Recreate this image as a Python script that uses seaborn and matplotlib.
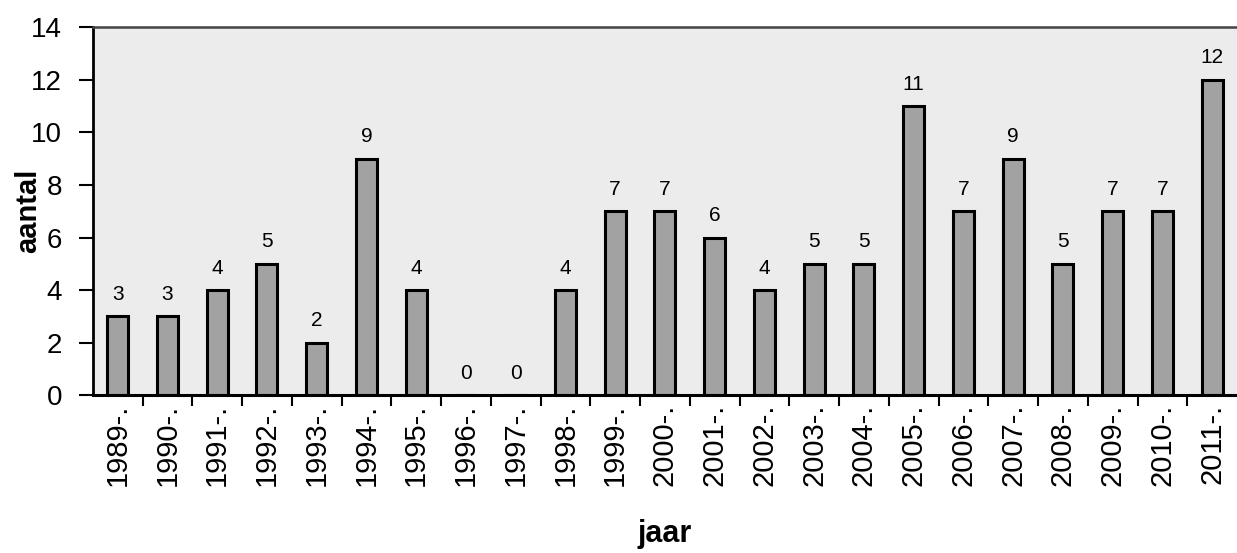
import numpy as np
import pandas as pd
import matplotlib.pyplot as plt
import seaborn as sns
from matplotlib.ticker import FixedLocator

years = [str(y) for y in range(1989, 2012)]
counts = [3, 3, 4, 5, 2, 9, 4, 0, 0, 4, 7, 7, 6, 4, 5, 5, 11, 7, 9, 5, 7, 7, 12]
tick_labels = [y + "-." for y in years]

df = pd.DataFrame({"jaar": tick_labels, "aantal": counts})

sns.set_style("ticks")
plt.rcParams['font.family'] = ['Liberation Sans', 'DejaVu Sans']
plt.rcParams['text.color'] = 'black'
plt.rcParams['xtick.color'] = 'black'
plt.rcParams['ytick.color'] = 'black'
plt.rcParams['axes.labelcolor'] = 'black'

fig = plt.figure(figsize=(12.37, 5.53), dpi=100)
ax = fig.add_axes([0.075, 0.285, 0.925, 0.666])
ax.set_facecolor('#ececec')

sns.barplot(data=df, x="jaar", y="aantal", color='#a2a2a2', width=0.42,
            edgecolor='black', linewidth=2.2, saturation=1, ax=ax)

for c in ax.containers:
    ax.bar_label(c, labels=[str(v) for v in counts], padding=9, fontsize=15,
                 color='black')

ax.set_ylim(0, 14)
ax.set_xlim(-0.5, len(years) - 0.5)
ax.set_yticks(range(0, 15, 2))
ax.tick_params(axis='y', labelsize=20, length=10, width=1.5, direction='out', pad=12)
ax.tick_params(axis='x', which='major', labelsize=21, length=0, rotation=90, pad=6)
ax.xaxis.set_minor_locator(FixedLocator(np.arange(0.5, len(years) - 0.5, 1.0)))
ax.tick_params(axis='x', which='minor', length=8, width=1.5, direction='out')

ax.set_xlabel('jaar', fontsize=22, fontweight='bold', labelpad=24)
ax.set_ylabel('aantal', fontsize=21, fontweight='bold', labelpad=-8)

ax.spines['right'].set_visible(False)
ax.spines['top'].set_color('#444444')
ax.spines['top'].set_linewidth(1.8)
ax.spines['left'].set_linewidth(2)
ax.spines['left'].set_color('black')
ax.spines['bottom'].set_linewidth(2.2)
ax.spines['bottom'].set_color('black')

fig.savefig('out.png', dpi=100)
